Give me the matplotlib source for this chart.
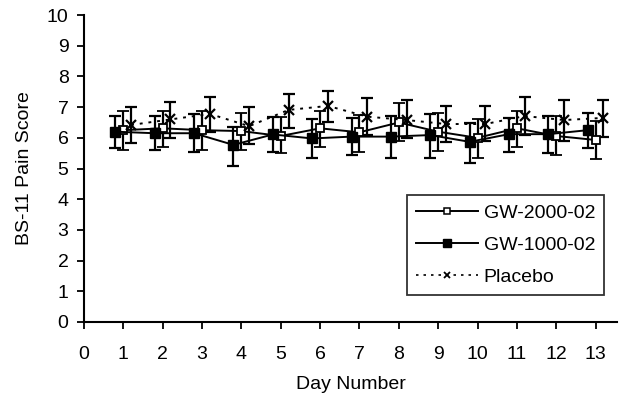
import numpy as np
import matplotlib
matplotlib.use("Agg")
from matplotlib import pyplot as plt
from matplotlib.lines import Line2D

plt.rcParams['font.family'] = ['Liberation Sans', 'DejaVu Sans']

days = np.arange(1, 14)

# GW-2000-02 (open squares)
gw2000 = [6.25, 6.31, 6.25, 6.22, 6.06, 6.31, 6.18, 6.50, 6.20, 6.00, 6.31, 6.06, 5.93]
gw2000_hi = [6.87, 6.87, 6.87, 6.80, 6.67, 6.87, 6.74, 7.12, 6.82, 6.60, 6.87, 6.72, 6.55]
gw2000_lo = [5.61, 5.71, 5.61, 5.61, 5.49, 5.71, 5.53, 5.90, 5.57, 5.35, 5.71, 5.44, 5.31]

# GW-1000-02 (filled squares)
gw1000 = [6.20, 6.15, 6.15, 5.77, 6.11, 5.98, 6.04, 6.04, 6.09, 5.87, 6.12, 6.12, 6.25]
gw1000_hi = [6.72, 6.72, 6.78, 6.36, 6.69, 6.61, 6.65, 6.72, 6.78, 6.47, 6.65, 6.72, 6.80]
gw1000_lo = [5.66, 5.61, 5.53, 5.09, 5.55, 5.35, 5.44, 5.35, 5.35, 5.17, 5.53, 5.49, 5.68]

# Placebo (crosses)
placebo = [6.42, 6.60, 6.78, 6.38, 6.91, 7.04, 6.69, 6.58, 6.45, 6.45, 6.71, 6.58, 6.65]
placebo_hi = [6.99, 7.18, 7.34, 6.99, 7.44, 7.53, 7.31, 7.23, 7.04, 7.04, 7.34, 7.23, 7.23]
placebo_lo = [5.84, 5.98, 6.20, 5.79, 6.33, 6.50, 6.09, 6.00, 5.85, 5.90, 6.09, 5.90, 6.04]


def yerr(mid, lo, hi):
    mid = np.asarray(mid)
    return [mid - np.asarray(lo), np.asarray(hi) - mid]


fig = plt.figure(figsize=(6.21, 3.97), dpi=100)
ax = fig.add_axes([0.135, 0.189, 0.859, 0.773])

ekw = dict(color='black', ecolor='black', elinewidth=1.6, capsize=4.5, capthick=1.6)
dotted = (0, (1.5, 3))

ax.errorbar(days, gw2000, yerr=yerr(gw2000, gw2000_lo, gw2000_hi), marker='s',
            ms=6, mfc='white', mec='black', mew=1.3, lw=1.4, ls='-', zorder=3, **ekw)
ax.errorbar(days - 0.2, gw1000, yerr=yerr(gw1000, gw1000_lo, gw1000_hi), marker='s',
            ms=7.5, mfc='black', mec='black', lw=1.4, ls='-', zorder=3, **ekw)
ax.errorbar(days + 0.2, placebo, yerr=yerr(placebo, placebo_lo, placebo_hi), marker='x',
            ms=7, mew=1.6, lw=1.4, ls=dotted, zorder=3, **ekw)

ax.set_xlim(0, 13.55)
ax.set_ylim(0, 10)
ax.set_xticks(range(0, 14))
ax.set_yticks(range(0, 11))
ax.tick_params(labelsize=14, direction='out', length=5, width=1.3)
ax.tick_params(axis='x', pad=12)
ax.tick_params(axis='y', pad=6)
for s in ['top', 'right']:
    ax.spines[s].set_visible(False)
for s in ['left', 'bottom']:
    ax.spines[s].set_linewidth(1.5)

ax.set_xlabel('Day Number', fontsize=14, labelpad=10)
ax.set_ylabel('BS-11 Pain Score', fontsize=14, labelpad=10)

handles = [
    Line2D([], [], color='black', lw=1.4, marker='s', ms=4, mfc='white', mec='black', mew=1.1),
    Line2D([], [], color='black', lw=1.4, marker='s', ms=6, mfc='black', mec='black'),
    Line2D([], [], color='black', lw=1.2, ls=dotted, marker='x', ms=5, mew=1.3),
]
labels = ['GW-2000-02', 'GW-1000-02', 'Placebo']
leg = ax.legend(handles, labels, loc='lower right', bbox_to_anchor=(0.975, 0.088),
                fontsize=14, frameon=True, fancybox=False, edgecolor='black',
                handlelength=3.2, handletextpad=0.3, borderpad=0.45, labelspacing=0.75,
                borderaxespad=0)
leg.get_frame().set_linewidth(1.3)

fig.savefig('out.png', dpi=100)
